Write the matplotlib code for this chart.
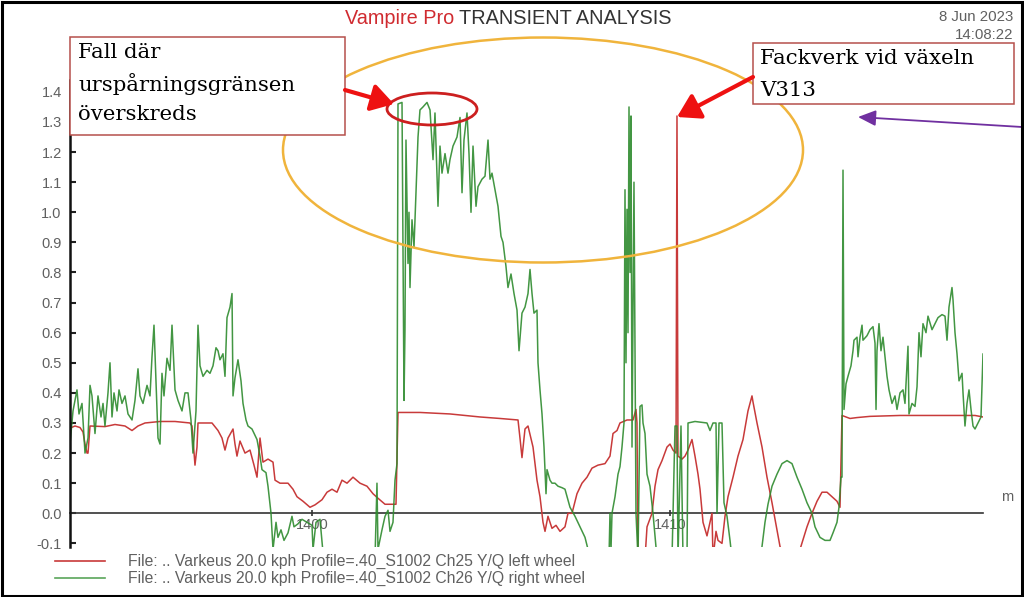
import matplotlib
matplotlib.use("Agg")
import matplotlib.pyplot as plt
from matplotlib.patches import Ellipse, Rectangle, FancyArrowPatch
from matplotlib.lines import Line2D

# ---------------- data (distance in m, Y/Q) ----------------
left_x = [1393.241, 1393.381, 1393.520, 1393.604, 1393.660, 1393.716, 1393.744, 1393.800,
          1394.218, 1394.498, 1394.777, 1394.973, 1395.140, 1395.336, 1395.755, 1396.174,
          1396.593, 1396.648, 1396.704, 1396.732, 1396.788, 1396.816, 1397.207, 1397.375,
          1397.486, 1397.570, 1397.654, 1397.794, 1397.849, 1397.905, 1397.989, 1398.129,
          1398.268, 1398.380, 1398.464, 1398.548, 1398.631, 1398.771, 1398.911, 1398.967,
          1399.106, 1399.330, 1399.469, 1399.581, 1399.749, 1399.944, 1400.084, 1400.279,
          1400.419, 1400.559, 1400.698, 1400.838, 1400.978, 1401.145, 1401.341, 1401.536,
          1401.704, 1401.843, 1402.039, 1402.234, 1402.346, 1402.402, 1403.016, 1403.854,
          1404.692, 1405.251, 1405.754, 1405.809, 1405.865, 1405.949, 1406.033, 1406.173,
          1406.284, 1406.368, 1406.452, 1406.508, 1406.591, 1406.703, 1406.815, 1406.927,
          1407.066, 1407.150, 1407.262, 1407.401, 1407.541, 1407.681, 1407.820, 1407.988,
          1408.183, 1408.323, 1408.407, 1408.519, 1408.602, 1408.798, 1408.966, 1409.049,
          1409.077, 1409.105, 1409.217, 1409.301, 1409.357, 1409.496, 1409.580, 1409.664,
          1409.776, 1409.915, 1409.999, 1410.083, 1410.167, 1410.194, 1410.222, 1410.334,
          1410.418, 1410.502, 1410.613, 1410.697, 1410.781, 1410.837, 1410.921, 1411.032,
          1411.116, 1411.172, 1411.200, 1411.284, 1411.340, 1411.451, 1411.535, 1411.619,
          1411.759, 1411.898, 1412.038, 1412.177, 1412.289, 1412.317, 1412.429, 1412.569,
          1412.708, 1412.848, 1412.987, 1413.071, 1413.351, 1413.630, 1413.825, 1413.965,
          1414.105, 1414.244, 1414.384, 1414.524, 1414.663, 1414.747, 1414.803, 1415.026,
          1415.222, 1415.585, 1416.423, 1417.261, 1418.099, 1418.518, 1418.741]
left_yq = [0.283, 0.29, 0.285, 0.27, 0.23, 0.20, 0.20, 0.29,
           0.288, 0.295, 0.29, 0.275, 0.29, 0.30, 0.305, 0.305,
           0.30, 0.29, 0.20, 0.16, 0.22, 0.30, 0.30, 0.275,
           0.25, 0.21, 0.25, 0.28, 0.23, 0.19, 0.24, 0.20,
           0.21, 0.16, 0.12, 0.25, 0.17, 0.18, 0.17, 0.11,
           0.10, 0.10, 0.08, 0.055, 0.04, 0.02, 0.028, 0.045,
           0.07, 0.08, 0.07, 0.11, 0.10, 0.12, 0.10, 0.09,
           0.065, 0.05, 0.03, 0.03, 0.03, 0.335, 0.335, 0.33,
           0.32, 0.315, 0.31, 0.25, 0.185, 0.28, 0.29, 0.22,
           0.11, 0.055, -0.03, -0.06, -0.01, -0.05, -0.04, -0.06,
           -0.045, 0.0, 0.0, 0.065, 0.10, 0.12, 0.15, 0.16,
           0.165, 0.19, 0.265, 0.275, 0.30, 0.31, 0.31, 0.345,
           0.30, -0.15, -0.15, -0.15, -0.045, 0.0, 0.09, 0.145,
           0.175, 0.22, 0.23, 0.21, 0.20, 1.32, 0.19, 0.18,
           0.19, 0.21, 0.245, 0.19, 0.13, 0.08, -0.03, -0.075,
           -0.03, 0.0, -0.15, -0.06, -0.09, -0.10, -0.01, 0.055,
           0.12, 0.19, 0.245, 0.34, 0.39, 0.37, 0.30, 0.22,
           0.12, 0.035, -0.055, -0.11, -0.20, -0.12, -0.045, 0.0,
           0.04, 0.07, 0.07, 0.055, 0.04, 0.02, 0.325, 0.315,
           0.318, 0.322, 0.325, 0.325, 0.325, 0.325, 0.32]

right_x = [1393.241, 1393.325, 1393.436, 1393.492, 1393.576, 1393.660, 1393.744, 1393.800,
           1393.855, 1393.939, 1394.023, 1394.107, 1394.163, 1394.218, 1394.302, 1394.358,
           1394.414, 1394.470, 1394.554, 1394.610, 1394.693, 1394.777, 1394.861, 1394.973,
           1395.056, 1395.140, 1395.196, 1395.280, 1395.392, 1395.475, 1395.531, 1395.587,
           1395.643, 1395.699, 1395.755, 1395.810, 1395.866, 1395.950, 1396.034, 1396.090,
           1396.174, 1396.257, 1396.369, 1396.453, 1396.537, 1396.620, 1396.676, 1396.760,
           1396.816, 1396.872, 1396.956, 1397.067, 1397.151, 1397.235, 1397.319, 1397.375,
           1397.430, 1397.514, 1397.570, 1397.626, 1397.710, 1397.766, 1397.794, 1397.849,
           1397.933, 1398.017, 1398.073, 1398.157, 1398.212, 1398.324, 1398.464, 1398.548,
           1398.603, 1398.715, 1398.771, 1398.855, 1398.911, 1398.995, 1399.050, 1399.134,
           1399.218, 1399.330, 1399.441, 1399.497, 1399.609, 1399.721, 1399.860, 1400.000,
           1400.028, 1400.112, 1400.223, 1400.307, 1401.061, 1401.760, 1401.815, 1401.843,
           1401.955, 1402.039, 1402.123, 1402.179, 1402.262, 1402.318, 1402.374, 1402.402,
           1402.514, 1402.570, 1402.597, 1402.625, 1402.681, 1402.709, 1402.737, 1402.793,
           1402.849, 1402.905, 1402.961, 1403.016, 1403.100, 1403.212, 1403.296, 1403.380,
           1403.435, 1403.519, 1403.575, 1403.631, 1403.715, 1403.798, 1403.854, 1403.938,
           1404.050, 1404.134, 1404.190, 1404.245, 1404.329, 1404.385, 1404.441, 1404.497,
           1404.581, 1404.636, 1404.748, 1404.832, 1404.916, 1404.972, 1405.027, 1405.111,
           1405.195, 1405.279, 1405.335, 1405.418, 1405.474, 1405.558, 1405.642, 1405.726,
           1405.782, 1405.865, 1405.949, 1406.033, 1406.089, 1406.145, 1406.200, 1406.284,
           1406.312, 1406.368, 1406.424, 1406.480, 1406.536, 1406.564, 1406.647, 1406.703,
           1406.787, 1406.871, 1406.983, 1407.066, 1407.206, 1407.346, 1407.485, 1407.625,
           1407.709, 1408.044, 1408.295, 1408.323, 1408.351, 1408.379, 1408.463, 1408.547,
           1408.602, 1408.658, 1408.714, 1408.742, 1408.770, 1408.798, 1408.826, 1408.854,
           1408.882, 1408.910, 1408.938, 1408.993, 1409.049, 1409.105, 1409.161, 1409.217,
           1409.245, 1409.301, 1409.357, 1409.440, 1409.524, 1409.636, 1410.055, 1410.139,
           1410.194, 1410.222, 1410.306, 1410.362, 1410.474, 1410.502, 1410.697, 1411.032,
           1411.116, 1411.200, 1411.284, 1411.312, 1411.368, 1411.451, 1411.479, 1411.507,
           1411.591, 1411.675, 1411.731, 1412.513, 1412.569, 1412.652, 1412.736, 1412.848,
           1412.987, 1413.127, 1413.267, 1413.406, 1413.546, 1413.686, 1413.825, 1413.965,
           1414.049, 1414.188, 1414.328, 1414.468, 1414.552, 1414.663, 1414.719, 1414.775,
           1414.803, 1414.831, 1414.859, 1414.915, 1414.970, 1415.054, 1415.110, 1415.138,
           1415.222, 1415.250, 1415.306, 1415.362, 1415.389, 1415.501, 1415.585, 1415.669,
           1415.725, 1415.753, 1415.780, 1415.836, 1415.892, 1415.948, 1416.004, 1416.060,
           1416.116, 1416.199, 1416.283, 1416.339, 1416.423, 1416.507, 1416.562, 1416.646,
           1416.674, 1416.758, 1416.842, 1416.898, 1416.954, 1417.009, 1417.065, 1417.149,
           1417.205, 1417.317, 1417.400, 1417.484, 1417.596, 1417.680, 1417.736, 1417.791,
           1417.875, 1417.903, 1417.959, 1418.015, 1418.071, 1418.155, 1418.183, 1418.238,
           1418.294, 1418.350, 1418.406, 1418.462, 1418.518, 1418.601, 1418.685, 1418.741,
           1418.769]
right_yq = [0.23, 0.34, 0.41, 0.33, 0.365, 0.20, 0.25, 0.425,
            0.39, 0.265, 0.39, 0.32, 0.365, 0.29, 0.40, 0.50,
            0.32, 0.40, 0.34, 0.41, 0.365, 0.39, 0.33, 0.31,
            0.375, 0.48, 0.39, 0.365, 0.425, 0.39, 0.52, 0.625,
            0.44, 0.25, 0.23, 0.465, 0.39, 0.515, 0.475, 0.625,
            0.41, 0.375, 0.34, 0.40, 0.40, 0.31, 0.20, 0.34,
            0.625, 0.49, 0.455, 0.475, 0.465, 0.49, 0.55, 0.54,
            0.51, 0.53, 0.455, 0.65, 0.685, 0.73, 0.39, 0.45,
            0.51, 0.44, 0.365, 0.31, 0.29, 0.28, 0.245, 0.19,
            0.145, 0.135, 0.09, 0.0, -0.12, -0.03, -0.08, -0.055,
            -0.09, -0.065, -0.01, -0.045, -0.035, -0.02, -0.03, -0.04,
            -0.12, -0.03, -0.02, -0.13, -0.15, -0.15, 0.10, -0.12,
            -0.055, -0.01, 0.01, -0.06, -0.03, 0.11, 0.165, 1.36,
            1.365, 0.375, 0.61, 1.24, 0.83, 1.0, 0.75, 0.975,
            0.885, 1.065, 1.25, 1.34, 1.35, 1.365, 1.34, 1.175,
            1.33, 1.02, 1.22, 1.13, 1.195, 1.13, 1.175, 1.22,
            1.25, 1.315, 1.065, 1.24, 1.33, 1.195, 1.0, 1.22,
            1.02, 1.085, 1.11, 1.12, 1.24, 1.11, 1.13, 1.075,
            1.02, 0.92, 0.90, 0.82, 0.75, 0.795, 0.73, 0.675,
            0.54, 0.665, 0.685, 0.73, 0.81, 0.73, 0.665, 0.675,
            0.50, 0.41, 0.33, 0.22, 0.065, 0.145, 0.11, 0.10,
            0.10, 0.09, 0.085, 0.08, 0.02, -0.01, -0.045, -0.08,
            -0.12, -0.15, -0.15, 0.0, -0.12, 0.0, 0.055, 0.13,
            0.155, 0.22, 0.30, 1.075, 0.50, 1.01, 0.60, 1.35,
            0.80, 1.32, 0.22, 1.10, 0.0, -0.15, 0.355, 0.36,
            0.30, 0.265, 0.13, 0.09, 0.0, -0.15, -0.15, 0.29,
            0.29, -0.15, 0.29, -0.15, -0.15, 0.30, 0.305, 0.30,
            0.275, 0.30, 0.30, 0.0, 0.30, 0.30, 0.165, 0.035,
            -0.01, -0.09, -0.15, -0.15, -0.11, -0.03, 0.03, 0.09,
            0.13, 0.165, 0.175, 0.165, 0.12, 0.08, 0.035, 0.0,
            -0.045, -0.08, -0.09, -0.09, -0.065, -0.03, 0.02, 0.12,
            0.12, 1.14, 0.345, 0.43, 0.455, 0.49, 0.54, 0.575,
            0.585, 0.52, 0.585, 0.625, 0.575, 0.59, 0.61, 0.62,
            0.565, 0.345, 0.54, 0.63, 0.54, 0.585, 0.52, 0.455,
            0.41, 0.365, 0.39, 0.345, 0.40, 0.41, 0.365, 0.555,
            0.33, 0.365, 0.355, 0.42, 0.60, 0.52, 0.63, 0.60,
            0.655, 0.61, 0.63, 0.65, 0.66, 0.655, 0.575, 0.685,
            0.75, 0.71, 0.60, 0.53, 0.44, 0.465, 0.40, 0.29,
            0.365, 0.41, 0.345, 0.29, 0.28, 0.30, 0.32, 0.53,
            0.44]

y_ticks = [-0.1, 0.0, 0.1, 0.2, 0.3, 0.4, 0.5, 0.6, 0.7, 0.8, 0.9, 1.0, 1.1, 1.2, 1.3, 1.4]
x_ticks = [1400, 1410]
x_tick_labels = ["1400", "1410"]

legend_labels = ["File: .. Varkeus 20.0 kph Profile=.40_S1002 Ch25 Y/Q left wheel",
                 "File: .. Varkeus 20.0 kph Profile=.40_S1002 Ch26 Y/Q right wheel"]
note_left = "Fall där\nurspårningsgränsen\növerskreds"
note_right = "Fackverk vid växeln\nV313"

RED = "#c83a3a"
GREEN = "#2e8b2e"
GREY = "#606060"

plt.rcParams['font.family'] = ['Liberation Sans', 'DejaVu Sans']

W, H = 1024, 597
fig = plt.figure(figsize=(W / 100, H / 100), dpi=100)
fig.patch.set_facecolor("white")

# main axes: x pixels 70..983, y pixels 80..547
ax = fig.add_axes([70 / W, (H - 547) / H, 913 / W, 467 / H])
ax.set_xlim(1393.241, 1418.741)
ax.set_ylim(-0.112, 1.4395)
ax.plot(left_x, left_yq, color=RED, lw=1.1, zorder=3)
ax.plot(right_x, right_yq, color=GREEN, lw=1.1, alpha=0.9, zorder=3)

for s in ["top", "right"]:
    ax.spines[s].set_visible(False)
ax.spines["left"].set_linewidth(1.8)
ax.spines["left"].set_color("#111111")
ax.spines["left"].set_zorder(4)
ax.spines["bottom"].set_position(("data", 0))
ax.spines["bottom"].set_linewidth(1.2)
ax.spines["bottom"].set_color("#333333")
ax.spines["bottom"].set_zorder(2)
ax.set_yticks(y_ticks)
ax.set_yticklabels([f"{v:.1f}" for v in y_ticks])
ax.set_xticks(x_ticks)
ax.set_xticklabels(x_tick_labels)
ax.tick_params(axis="y", direction="in", length=4, width=1.5, pad=6,
               labelsize=10.5, labelcolor=GREY, color="#222222")
ax.tick_params(axis="x", direction="inout", length=5, width=1.2, pad=1,
               labelsize=10.5, labelcolor=GREY, color="#333333")
ax.patch.set_alpha(0)

# overlay in pixel coordinates
ov = fig.add_axes([0, 0, 1, 1], zorder=10)
ov.set_xlim(0, W)
ov.set_ylim(H, 0)
ov.axis("off")
ov.patch.set_alpha(0)

# title and timestamp
ov.text(454, 19, "Vampire Pro", color="#d02b30", fontsize=14.3, ha="right", va="center")
ov.text(459, 19, "TRANSIENT ANALYSIS", color="#333333", fontsize=14.3, ha="left", va="center")
ov.text(1013, 17, "8 Jun 2023", color=GREY, fontsize=10.8, ha="right", va="center")
ov.text(1013, 35, "14:08:22", color=GREY, fontsize=10.8, ha="right", va="center")
ov.text(1007, 497, "m", color=GREY, fontsize=10.5, ha="center", va="center")

# legend
ov.add_line(Line2D([55, 105], [561, 561], color=RED, lw=1.2))
ov.add_line(Line2D([55, 105], [578, 578], color="#5aa55a", lw=1.2))
ov.text(128, 561, legend_labels[0], color=GREY, fontsize=11.3, ha="left", va="center")
ov.text(128, 578, legend_labels[1], color=GREY, fontsize=11.3, ha="left", va="center")

# annotations
ov.add_patch(Ellipse((543, 150), 520, 225, fill=False, ec="#f0b43c", lw=1.8, zorder=4))
ov.add_patch(Ellipse((432, 109), 90, 32, fill=False, ec="#cc1f1f", lw=2.0, zorder=4))
ov.add_patch(Rectangle((70, 37), 275, 98, fc="white", ec="#b5504b", lw=1.1, zorder=5))
ov.add_patch(Rectangle((753, 43), 261, 61, fc="white", ec="#b5504b", lw=1.1, zorder=5))
for i, line in enumerate(note_left.split("\n")):
    ov.text(78, 53 + 31 * i, line, family="DejaVu Serif", fontsize=15.3, color="black",
            ha="left", va="center", zorder=6)
for i, line in enumerate(note_right.split("\n")):
    ov.text(760, 59 + 31 * i, line, family="DejaVu Serif", fontsize=15.3, color="black",
            ha="left", va="center", zorder=6)

red_arrow = dict(arrowstyle="-|>,head_length=0.9,head_width=0.55", mutation_scale=15,
                 color="#ee1111", lw=3.0, shrinkA=0, shrinkB=0, zorder=7)
ov.add_patch(FancyArrowPatch((345, 90), (394, 104), **red_arrow))
ov.add_patch(FancyArrowPatch((753, 77), (677, 117), **red_arrow))
ov.add_patch(FancyArrowPatch((1022, 127), (858, 117),
                             arrowstyle="-|>,head_length=0.9,head_width=0.4", mutation_scale=12,
                             color="#7030a0", lw=1.3, shrinkA=0, shrinkB=0, zorder=7))

# outer frame
ov.add_patch(Rectangle((1.5, 1.5), 1020, 594, fill=False, ec="black", lw=2.2, zorder=8))

fig.savefig("out.png", dpi=100)
